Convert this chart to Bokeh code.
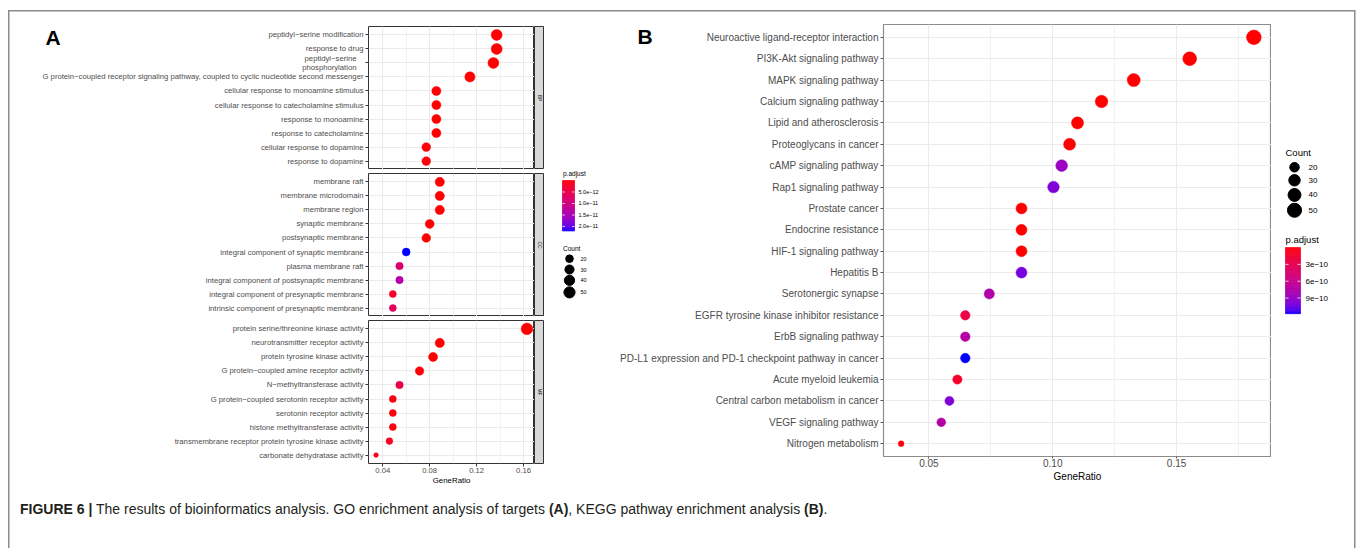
import numpy as np
from bokeh.plotting import figure
from bokeh.models import (FactorRange, Range1d, FixedTicker, LinearColorMapper, ColumnDataSource, Label, Div,
                          GridBox, NumeralTickFormatter, CustomJSTickFormatter)
from bokeh.layouts import row, column
from bokeh.embed import file_html
from bokeh.resources import INLINE
from bokeh.core.properties import value

FONT = "Liberation Sans"

# ---------------- data ----------------
go_bp_terms = ["peptidyl\u2212serine modification", "response to drug", "peptidyl\u2212serine\nphosphorylation",
               "G protein\u2212coupled receptor signaling pathway, coupled to cyclic nucleotide second messenger",
               "cellular response to monoamine stimulus", "cellular response to catecholamine stimulus",
               "response to monoamine", "response to catecholamine", "cellular response to dopamine",
               "response to dopamine"]
go_bp_ratio = [0.1371, 0.1371, 0.1343, 0.1143, 0.0857, 0.0857, 0.0857, 0.0857, 0.0771, 0.0771]
go_bp_count = [48, 48, 47, 40, 30, 30, 30, 30, 27, 27]
go_bp_padj = [2e-14, 3e-14, 5e-14, 8e-14, 1.2e-13, 1.2e-13, 1.3e-13, 1.3e-13, 4e-13, 4e-13]

go_cc_terms = ["membrane raft", "membrane microdomain", "membrane region", "synaptic membrane",
               "postsynaptic membrane", "integral component of synaptic membrane", "plasma membrane raft",
               "integral component of postsynaptic membrane", "integral component of presynaptic membrane",
               "intrinsic component of presynaptic membrane"]
go_cc_ratio = [0.0886, 0.0886, 0.0886, 0.0800, 0.0771, 0.0600, 0.0543, 0.0543, 0.0486, 0.0486]
go_cc_count = [31, 31, 31, 28, 27, 21, 19, 19, 17, 17]
go_cc_padj = [1e-14, 1e-14, 1.5e-14, 6e-14, 1.4e-13, 2.2e-11, 8.5e-12, 1.39e-11, 2.0e-12, 6.5e-12]

go_mf_terms = ["protein serine/threonine kinase activity", "neurotransmitter receptor activity",
               "protein tyrosine kinase activity", "G protein\u2212coupled amine receptor activity",
               "N\u2212methyltransferase activity", "G protein\u2212coupled serotonin receptor activity",
               "serotonin receptor activity", "histone methyltransferase activity",
               "transmembrane receptor protein tyrosine kinase activity", "carbonate dehydratase activity"]
go_mf_ratio = [0.1629, 0.0886, 0.0829, 0.0714, 0.0543, 0.0486, 0.0486, 0.0486, 0.0457, 0.0343]
go_mf_count = [57, 31, 29, 25, 19, 17, 17, 17, 16, 12]
go_mf_padj = [1e-14, 5e-14, 8e-14, 2e-13, 4.4e-12, 6e-13, 6e-13, 6e-13, 1.8e-12, 1e-12]

go_xticks = [0.04, 0.08, 0.12, 0.16]
go_xminor = [0.02, 0.06, 0.10, 0.14, 0.18]
go_pticks = [5e-12, 1e-11, 1.5e-11, 2e-11]
go_ptick_labels = ["5.0e\u221212", "1.0e\u221211", "1.5e\u221211", "2.0e\u221211"]
count_legend = [20, 30, 40, 50]

kegg_terms = ["Neuroactive ligand-receptor interaction", "PI3K-Akt signaling pathway", "MAPK signaling pathway",
              "Calcium signaling pathway", "Lipid and atherosclerosis", "Proteoglycans in cancer",
              "cAMP signaling pathway", "Rap1 signaling pathway", "Prostate cancer", "Endocrine resistance",
              "HIF-1 signaling pathway", "Hepatitis B", "Serotonergic synapse",
              "EGFR tyrosine kinase inhibitor resistance", "ErbB signaling pathway",
              "PD-L1 expression and PD-1 checkpoint pathway in cancer", "Acute myeloid leukemia",
              "Central carbon metabolism in cancer", "VEGF signaling pathway", "Nitrogen metabolism"]
kegg_ratio = [0.1812, 0.1553, 0.1327, 0.1197, 0.1100, 0.1068, 0.1036, 0.1003, 0.0874, 0.0874,
              0.0874, 0.0874, 0.0744, 0.0647, 0.0647, 0.0647, 0.0615, 0.0583, 0.0550, 0.0388]
kegg_count = [56, 48, 41, 37, 34, 33, 32, 31, 27, 27, 27, 27, 23, 20, 20, 20, 19, 18, 17, 12]
kegg_padj = [2.5e-15, 1.5e-14, 3e-14, 8e-14, 2e-13, 4e-13, 8.85e-10, 9.9e-10, 2e-12, 3e-12,
             4e-12, 1.015e-9, 7.7e-10, 2.4e-10, 7.4e-10, 1.18e-9, 1.2e-10, 9.9e-10, 7.4e-10, 2e-11]
kegg_xticks = [0.05, 0.10, 0.15]
kegg_xminor = [0.025, 0.075, 0.125, 0.175]
kegg_pticks = [3e-10, 6e-10, 9e-10]
kegg_ptick_labels = ["3e\u221210", "6e\u221210", "9e\u221210"]

caption_html = ('<b>FIGURE 6 |</b> The results of bioinformatics analysis. GO enrichment analysis of targets '
                '<b>(A)</b>, KEGG pathway enrichment analysis <b>(B)</b>.')


# ---------------- colour ramp (CIELAB, like ggplot) ----------------
def _hex2rgb(h):
    h = h.lstrip('#')
    return [int(h[i:i + 2], 16) / 255 for i in (0, 2, 4)]


def _to_lab(rgb):
    lin = [c / 12.92 if c <= 0.04045 else ((c + 0.055) / 1.055) ** 2.4 for c in rgb]
    r, g, b = lin
    X = 0.4124564 * r + 0.3575761 * g + 0.1804375 * b
    Y = 0.2126729 * r + 0.7151522 * g + 0.0721750 * b
    Z = 0.0193339 * r + 0.1191920 * g + 0.9503041 * b

    def f(t):
        return t ** (1 / 3) if t > 216 / 24389 else (24389 / 27 * t + 16) / 116
    fx, fy, fz = f(X / 0.95047), f(Y), f(Z / 1.08883)
    return (116 * fy - 16, 500 * (fx - fy), 200 * (fy - fz))


def _from_lab(L, a, b):
    fy = (L + 16) / 116
    fx = fy + a / 500
    fz = fy - b / 200

    def finv(t):
        return t ** 3 if t ** 3 > 216 / 24389 else (116 * t - 16) / (24389 / 27)
    X = finv(fx) * 0.95047
    Y = finv(fy)
    Z = finv(fz) * 1.08883
    r = 3.2404542 * X - 1.5371385 * Y - 0.4985314 * Z
    g = -0.9692660 * X + 1.8760108 * Y + 0.0415560 * Z
    bb = 0.0556434 * X - 0.2040259 * Y + 1.0572252 * Z

    def gam(c):
        c = max(0.0, min(1.0, c))
        return 12.92 * c if c <= 0.0031308 else 1.055 * c ** (1 / 2.4) - 0.055
    return '#%02x%02x%02x' % tuple(int(round(gam(c) * 255)) for c in (r, g, bb))


def lab_ramp(c1, c2, n):
    l1, l2 = _to_lab(_hex2rgb(c1)), _to_lab(_hex2rgb(c2))
    out = []
    for i in range(n):
        t = i / (n - 1)
        out.append(_from_lab(*[l1[k] + (l2[k] - l1[k]) * t for k in range(3)]))
    return out


PALETTE = lab_ramp("#FF0000", "#0000FF", 256)


def size_px(counts, cmin, cmax, dmin, dmax):
    return [dmin + (dmax - dmin) * np.sqrt((c - cmin) / (cmax - cmin)) for c in counts]


def pal_color(v, lo, hi):
    t = (v - lo) / (hi - lo)
    i = int(round(max(0, min(1, t)) * (len(PALETTE) - 1)))
    return PALETTE[i]


GRID = "#EBEBEB"
TXT = "#4D4D4D"
TWO_LINE = "peptidyl\u2212serine\nphosphorylation"

# ---------------- panel A ----------------
go_all_ratio = go_bp_ratio + go_cc_ratio + go_mf_ratio
go_all_count = go_bp_count + go_cc_count + go_mf_count
go_all_padj = go_bp_padj + go_cc_padj + go_mf_padj
gspan = max(go_all_ratio) - min(go_all_ratio)
A_X0 = min(go_all_ratio) - 0.05 * gspan
A_X1 = max(go_all_ratio) + 0.05 * gspan
A_PMIN, A_PMAX = min(go_all_padj), max(go_all_padj)
A_CMIN, A_CMAX = min(go_all_count), max(go_all_count)
mapA = LinearColorMapper(palette=PALETTE, low=A_PMIN, high=A_PMAX)


def facet(terms, ratio, count, padj, height, top, bottom, show_x):
    factors = list(reversed(terms))
    p = figure(width=525, height=height,
               y_range=FactorRange(factors=factors, range_padding=0.1, range_padding_units="absolute"),
               x_range=Range1d(A_X0, A_X1), x_axis_location="below" if show_x else None,
               toolbar_location=None, output_backend="svg",
               min_border_left=359, min_border_right=0, min_border_top=top, min_border_bottom=bottom)
    tk = FixedTicker(ticks=go_xticks, minor_ticks=go_xminor)
    for g in p.xgrid:
        g.ticker = tk
        g.grid_line_color = GRID
        g.grid_line_width = 1
        g.minor_grid_line_color = GRID
        g.minor_grid_line_width = 0.6
    p.ygrid.grid_line_color = GRID
    p.ygrid.grid_line_width = 1
    p.outline_line_color = "#333333"
    p.outline_line_width = 1
    ya = p.yaxis[0]
    ya.axis_line_color = None
    ya.major_tick_out = 3
    ya.major_tick_in = 0
    ya.major_tick_line_color = "#333333"
    ya.major_label_standoff = 2
    ya.major_label_text_font = FONT
    ya.major_label_text_font_size = "7.7px"
    ya.major_label_text_color = TXT
    if TWO_LINE in terms:
        # the wrapped label is drawn separately (right-aligned) in the overlay
        ya.formatter = CustomJSTickFormatter(code="return (String(tick).indexOf('\\n') >= 0) ? ' ' : tick;")
    if show_x:
        xa = p.xaxis[0]
        xa.ticker = tk
        xa.formatter = NumeralTickFormatter(format="0.00")
        xa.axis_line_color = None
        xa.major_tick_out = 3
        xa.major_tick_in = 0
        xa.minor_tick_out = 0
        xa.minor_tick_in = 0
        xa.major_tick_line_color = "#333333"
        xa.major_label_standoff = 1
        xa.major_label_text_font = FONT
        xa.major_label_text_font_size = "7.7px"
        xa.major_label_text_color = TXT
        xa.axis_label = "GeneRatio"
        xa.axis_label_standoff = 0
        xa.axis_label_text_font = FONT
        xa.axis_label_text_font_size = "7.9px"
        xa.axis_label_text_font_style = "normal"
        xa.axis_label_text_color = "#000000"
    src = ColumnDataSource(dict(term=terms, ratio=ratio, count=count, padj=padj,
                                size=size_px(count, A_CMIN, A_CMAX, 4.7, 11.7)))
    p.scatter(x="ratio", y="term", size="size", source=src,
              fill_color={"field": "padj", "transform": mapA},
              line_color={"field": "padj", "transform": mapA}, line_width=0.5)
    return p


def strip(txt, height, top, bottom):
    s = figure(width=10, height=height, x_range=Range1d(0, 1), y_range=Range1d(0, 1),
               x_axis_location=None, y_axis_location=None, toolbar_location=None, output_backend="svg",
               min_border_left=0, min_border_right=0, min_border_top=top, min_border_bottom=bottom)
    s.background_fill_color = "#D9D9D9"
    s.outline_line_color = "#333333"
    s.outline_line_width = 1
    s.grid.visible = False
    s.add_layout(Label(x=0.5, y=0.5, text=txt, angle=-90, angle_units="deg", text_align="center",
                       text_baseline="middle", text_font_size="5px", text_font=FONT, text_color="#1A1A1A"))
    return s


fBP = facet(go_bp_terms, go_bp_ratio, go_bp_count, go_bp_padj, 158, 15, 0, False)
fCC = facet(go_cc_terms, go_cc_ratio, go_cc_count, go_cc_padj, 147, 4, 0, False)
fMF = facet(go_mf_terms, go_mf_ratio, go_mf_count, go_mf_padj, 174, 4, 27, True)
colA = column(row(fBP, strip("BP", 158, 15, 0)),
              row(fCC, strip("CC", 147, 4, 0)),
              row(fMF, strip("MF", 174, 4, 27)))


# ---------------- legends ----------------
def legend_fig(w, h):
    lg = figure(width=w, height=h, x_range=Range1d(0, w), y_range=Range1d(h, 0),
                x_axis_location=None, y_axis_location=None, toolbar_location=None, output_backend="svg",
                min_border=0)
    lg.outline_line_color = None
    lg.grid.visible = False
    return lg


def draw_colorbar(lg, x0, x1, y0, y1, lo, hi, ticks, labels, tfs, lab_x, title, title_xy, ttl_fs):
    n = 80
    vals = np.linspace(lo, hi, n + 1)
    tops = [y0 + (y1 - y0) * i / n for i in range(n)]
    bots = [y0 + (y1 - y0) * (i + 1) / n for i in range(n)]
    cols = [pal_color((vals[i] + vals[i + 1]) / 2, lo, hi) for i in range(n)]
    lg.quad(left=x0, right=x1, top=tops, bottom=bots, fill_color=cols, line_color=cols, line_width=0.6)
    ty = [y0 + (y1 - y0) * (t - lo) / (hi - lo) for t in ticks]
    tw = (x1 - x0) / 5
    lg.segment(x0=[x0] * len(ty), x1=[x0 + tw] * len(ty), y0=ty, y1=ty, line_color="white", line_width=0.8)
    lg.segment(x0=[x1 - tw] * len(ty), x1=[x1] * len(ty), y0=ty, y1=ty, line_color="white", line_width=0.8)
    lg.text(x=[lab_x] * len(ty), y=ty, text=labels, text_font=value(FONT), text_font_size=tfs,
            text_baseline="middle", text_align="left", text_color="#000000")
    lg.text(x=[title_xy[0]], y=[title_xy[1]], text=[title], text_font=value(FONT), text_font_size=ttl_fs,
            text_baseline="middle", text_align="left", text_color="#000000")


def draw_sizes(lg, x, ys, sizes, lab_x, tfs, title_xy, ttl_fs):
    lg.scatter(x=[x] * len(ys), y=ys, size=sizes, fill_color="black", line_color="black")
    lg.text(x=[lab_x] * len(ys), y=ys, text=[str(c) for c in count_legend], text_font=value(FONT),
            text_font_size=tfs, text_baseline="middle", text_align="left", text_color="#000000")
    lg.text(x=[title_xy[0]], y=[title_xy[1]], text=["Count"], text_font=value(FONT), text_font_size=ttl_fs,
            text_baseline="middle", text_align="left", text_color="#000000")


legA = legend_fig(60, 479)
draw_colorbar(legA, 18, 30, 173, 229, A_PMIN, A_PMAX, go_pticks, go_ptick_labels, "5.5px", 34,
              "p.adjust", (18.5, 165), "6.5px")
draw_sizes(legA, 25, [259.7, 271.7, 283.7, 297], size_px(count_legend, A_CMIN, A_CMAX, 4.7, 11.7), 36,
           "5.5px", (18.5, 248), "6.5px")

# ---------------- panel B ----------------
kspan = max(kegg_ratio) - min(kegg_ratio)
B_X0 = min(kegg_ratio) - 0.05 * kspan
B_X1 = max(kegg_ratio) + 0.05 * kspan
B_PMIN, B_PMAX = min(kegg_padj), max(kegg_padj)
B_CMIN, B_CMAX = min(kegg_count), max(kegg_count)
mapB = LinearColorMapper(palette=PALETTE, low=B_PMIN, high=B_PMAX)

pB = figure(width=667, height=479,
            y_range=FactorRange(factors=list(reversed(kegg_terms)), range_padding=0.1,
                                range_padding_units="absolute"),
            x_range=Range1d(B_X0, B_X1), toolbar_location=None, output_backend="svg",
            min_border_left=279, min_border_right=0, min_border_top=13, min_border_bottom=34)
tkB = FixedTicker(ticks=kegg_xticks, minor_ticks=kegg_xminor)
pB.xaxis.ticker = tkB
pB.xaxis.formatter = NumeralTickFormatter(format="0.00")
pB.xgrid.ticker = tkB
pB.xgrid.grid_line_color = GRID
pB.xgrid.grid_line_width = 1
pB.xgrid.minor_grid_line_color = GRID
pB.xgrid.minor_grid_line_width = 0.7
pB.ygrid.grid_line_color = GRID
pB.ygrid.grid_line_width = 1
pB.outline_line_color = "#8C8C8C"
pB.outline_line_width = 1.2
for ax in (pB.xaxis[0], pB.yaxis[0]):
    ax.axis_line_color = None
    ax.major_tick_out = 3
    ax.major_tick_in = 0
    ax.minor_tick_out = 0
    ax.minor_tick_in = 0
    ax.major_tick_line_color = "#555555"
    ax.major_label_text_font = FONT
    ax.major_label_text_font_size = "10px"
    ax.major_label_text_color = TXT
pB.yaxis.major_label_standoff = 2
pB.xaxis.major_tick_out = 2
pB.xaxis.major_label_standoff = 0
pB.xaxis.axis_label = "GeneRatio"
pB.xaxis.axis_label_standoff = 1
pB.xaxis.axis_label_text_font = FONT
pB.xaxis.axis_label_text_font_size = "10px"
pB.xaxis.axis_label_text_font_style = "normal"
pB.xaxis.axis_label_text_color = "#000000"
srcB = ColumnDataSource(dict(term=kegg_terms, ratio=kegg_ratio, count=kegg_count, padj=kegg_padj,
                             size=size_px(kegg_count, B_CMIN, B_CMAX, 5.7, 14.7)))
pB.scatter(x="ratio", y="term", size="size", source=srcB,
           fill_color={"field": "padj", "transform": mapB},
           line_color={"field": "padj", "transform": mapB}, line_width=0.5)

legB = legend_fig(82, 479)
draw_sizes(legB, 23, [158.3, 172.7, 189, 206], size_px(count_legend, B_CMIN, B_CMAX, 5.7, 14.7), 37,
           "8px", (14, 142), "9.5px")
draw_colorbar(legB, 14, 29, 247.3, 320.7, B_PMIN, B_PMAX, kegg_pticks, kegg_ptick_labels, "8px", 34,
              "p.adjust", (14, 238.3), "9.5px")

top = row(colA, legA, pB, legB)
cap = Div(text='<div style="padding:11px 0 0 11px; font-family:\'Liberation Sans\', Arial, sans-serif; '
               'font-size:14px; line-height:16px; color:#231f20; white-space:nowrap;">' + caption_html + '</div>',
          width=1344, height=50, margin=0)
main = column(top, cap, margin=(11, 0, 0, 9))

# ---------------- transparent overlay: panel letters, wrapped tick label and frame ----------------
ov = figure(width=1360, height=548, x_range=Range1d(0, 1360), y_range=Range1d(548, 0),
            x_axis_location=None, y_axis_location=None, toolbar_location=None, output_backend="svg",
            min_border=0)
ov.grid.visible = False
ov.outline_line_color = None
ov.background_fill_color = None
ov.border_fill_color = None
ov.text(x=[45, 637], y=[36.5, 36], text=["A", "B"], text_font=value(FONT), text_font_size="21px",
        text_font_style="bold", text_baseline="middle", text_align="left", text_color="#000000")
ov.text(x=[356, 356], y=[57.8, 67.2], text=TWO_LINE.split("\n"), text_font=value(FONT),
        text_font_size="7.7px", text_baseline="middle", text_align="right", text_color=TXT)
ov.segment(x0=[7.5, 8.25, 1354.25], y0=[10.25, 10, 10], x1=[1355, 8.25, 1354.25], y1=[10.25, 548, 548],
           line_color="#8c8c8c", line_width=1.5)

page = GridBox(children=[(main, 0, 0), (ov, 0, 0)])

open("out.html", "w").write(file_html(page, INLINE))
